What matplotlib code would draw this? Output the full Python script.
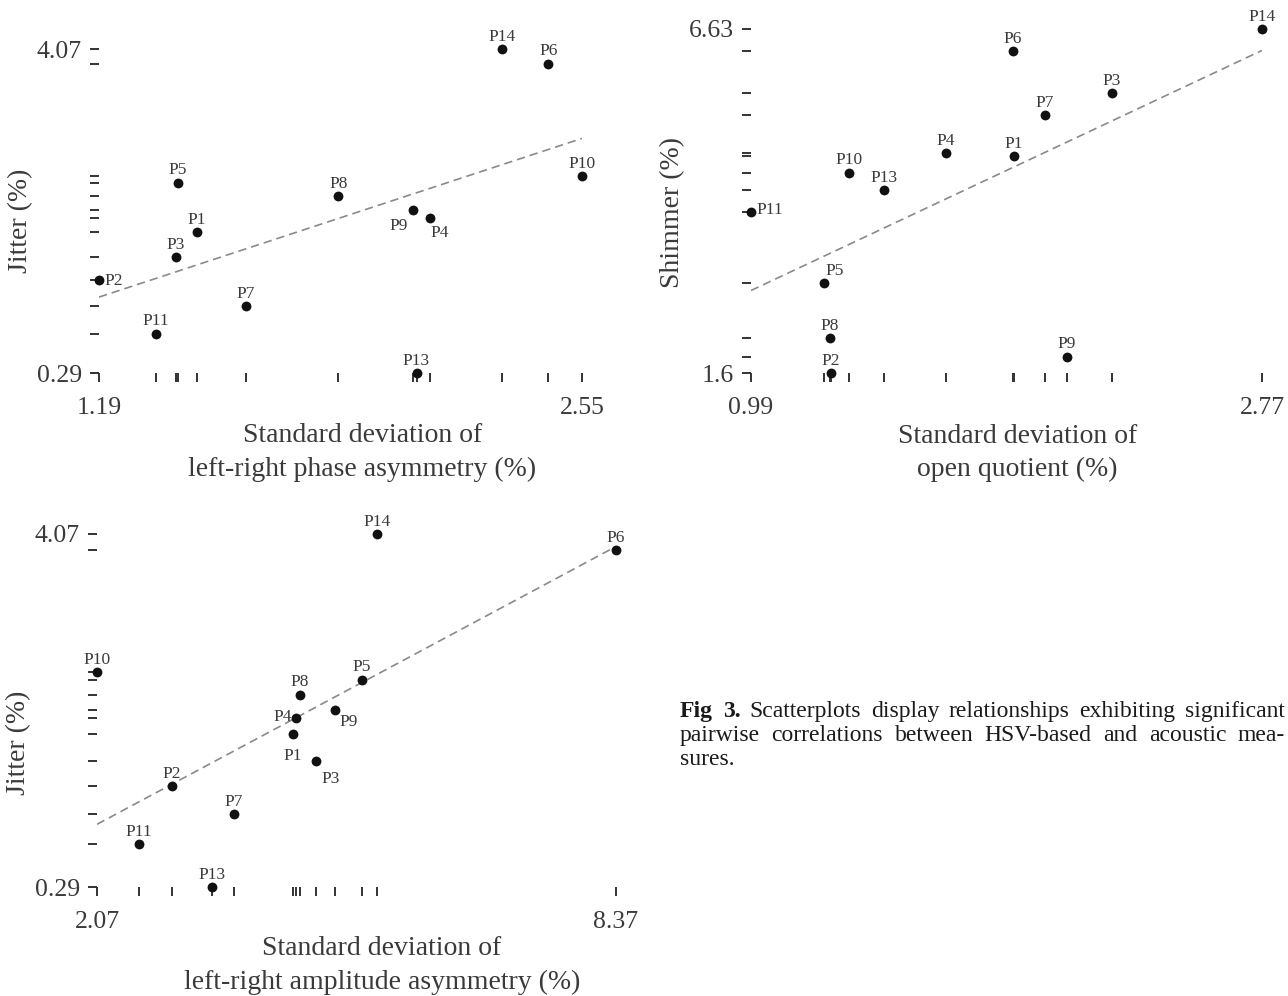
import numpy as np
import matplotlib
matplotlib.use("Agg")
import matplotlib.pyplot as plt

plt.rcParams['font.family'] = ['Liberation Serif', 'DejaVu Serif']

# participants (P12 not present)
labels = ['P1', 'P2', 'P3', 'P4', 'P5', 'P6', 'P7', 'P8', 'P9', 'P10', 'P11', 'P13', 'P14']

# acoustic measures (%)
jitter = [1.93, 1.37, 1.64, 2.10, 2.51, 3.90, 1.07, 2.35, 2.19, 2.59, 0.75, 0.29, 4.07]
shimmer = [4.77, 1.60, 5.69, 4.81, 2.91, 6.31, 5.37, 2.11, 1.84, 4.53, 3.95, 4.27, 6.63]

# HSV-based measures, standard deviation (%)
sd_phase_asym = [1.465, 1.19, 1.406, 2.123, 1.412, 2.455, 1.603, 1.864, 2.075, 2.55, 1.350, 2.084, 2.325]
sd_open_quot = [1.906, 1.269, 2.247, 1.669, 1.244, 1.903, 2.014, 1.265, 2.091, 1.331, 0.99, 1.453, 2.77]
sd_ampl_asym = [4.449, 2.980, 4.728, 4.486, 5.287, 8.37, 3.733, 4.534, 4.959, 2.07, 2.580, 3.466, 5.469]

TXT = '#3a3a3a'

fig = plt.figure(figsize=(12.88, 9.96), dpi=100)


def panel(rect, x, y, xlabel, ylabel, xlab_pos, ylab_pos, special):
    ax = fig.add_axes(rect)
    x = np.array(x)
    y = np.array(y)
    ax.scatter(x, y, s=50, color='#111111', zorder=3, clip_on=False, linewidths=0)

    # least squares line
    b, a = np.polyfit(x, y, 1)
    xs = np.array([x.min(), x.max()])
    ax.plot(xs, a + b * xs, color='#8a8a8a', lw=1.2, ls=(0, (5, 3)), zorder=2)

    ax.set_xlim(x.min(), x.max())
    ax.set_ylim(y.min(), y.max())
    for s in ax.spines.values():
        s.set_visible(False)

    # dot-dash style: ticks at every data value, labels only at the ends
    def lab(vals, v):
        if v == vals.min() or v == vals.max():
            return f'{round(v, 2):g}'
        return ''
    ax.set_xticks(x, [lab(x, v) for v in x])
    ax.set_yticks(y, [lab(y, v) for v in y])
    ax.tick_params(axis='both', length=6.5, width=1.4, color='#333333',
                   labelsize=18.5, labelcolor=TXT)
    ax.tick_params(axis='x', pad=11)
    ax.tick_params(axis='y', pad=6)

    ax.set_xlabel(xlabel, fontsize=20, color=TXT, linespacing=1.45)
    ax.xaxis.set_label_coords(*xlab_pos)
    ax.set_ylabel(ylabel, fontsize=20, color=TXT, va='center')
    ax.yaxis.set_label_coords(*ylab_pos)

    for i, name in enumerate(labels):
        dx, dy, ha, va = special.get(name, (0, 6, 'center', 'baseline'))
        ax.annotate(name, (x[i], y[i]), xytext=(dx, dy), textcoords='offset points',
                    ha=ha, va=va, fontsize=12.5, color=TXT, annotation_clip=False)
    return ax


W, H = 1288, 996


def rect(x0, x1, y0, y1):
    return [x0 / W, 1 - y1 / H, (x1 - x0) / W, (y1 - y0) / H]


panel(rect(99, 582, 49, 373), sd_phase_asym, jitter,
      'Standard deviation of\nleft-right phase asymmetry (%)', 'Jitter (%)',
      (0.545, -0.154), (-0.163, 0.47),
      {'P2': (4, -3, 'left', 'baseline'),
       'P9': (-4, -14, 'right', 'baseline'),
       'P4': (0, -14, 'left', 'baseline')})

panel(rect(751, 1262, 29, 373), sd_open_quot, shimmer,
      'Standard deviation of\nopen quotient (%)', 'Shimmer (%)',
      (0.522, -0.147), (-0.153, 0.466),
      {'P11': (4, -1, 'left', 'baseline'),
       'P5': (1, 6, 'left', 'baseline')})

panel(rect(97, 616, 534, 887), sd_ampl_asym, jitter,
      'Standard deviation of\nleft-right amplitude asymmetry (%)', 'Jitter (%)',
      (0.549, -0.139), (-0.152, 0.408),
      {'P1': (0, -19, 'center', 'baseline'),
       'P3': (4, -16, 'left', 'baseline'),
       'P4': (-3, -2, 'right', 'baseline'),
       'P9': (3, -12, 'left', 'baseline')})


# caption, justified like the source
def justify(words, x0, x1, ybase, just=True):
    r = fig.canvas.get_renderer()
    items = []
    for w, bold in words:
        t = fig.text(x0 / W, 1 - ybase / H, w, fontsize=17, color='#1a1a1a',
                     fontweight='bold' if bold else 'normal', va='baseline', ha='left')
        items.append(t)
    widths = [t.get_window_extent(r).width for t in items]
    if just and len(items) > 1:
        gap = (x1 - x0 - sum(widths)) / (len(items) - 1)
    else:
        gap = 5
    pos = x0
    for t, wd in zip(items, widths):
        t.set_x(pos / W)
        pos += wd + gap


line1 = [('Fig', True), ('3.', True)] + [(w, False) for w in
         'Scatterplots display relationships exhibiting significant'.split()]
line2 = [(w, False) for w in 'pairwise correlations between HSV-based and acoustic mea-'.split()]
justify(line1, 680, 1285, 717)
justify(line2, 680, 1285, 741)
justify([('sures.', False)], 680, 1285, 765, just=False)

fig.savefig('out.png', dpi=100)
